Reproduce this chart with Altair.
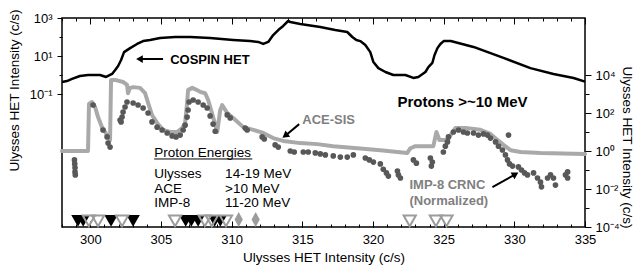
import altair as alt
import pandas as pd
import math

FONT = "Liberation Sans"
GRAY_LINE = "#a9a9a9"
GRAY_DOT = "#585858"
GRAY_TEXT = "#808080"
GRAY_MARK = "#9c9c9c"

# ---------------- data ----------------
# Ulysses COSPIN HET (left axis, c/s)
cospin_day = [298.0, 298.35, 298.71, 299.27, 299.84, 300.69, 301.12, 301.54, 301.75, 301.97,
              302.18, 302.39, 302.82, 303.31, 303.74, 304.23, 304.94, 306.0, 307.07, 308.48,
              310.11, 311.31, 311.88, 312.24, 312.59, 312.94, 313.30, 313.65, 314.0, 314.15,
              314.86, 316.27, 317.33, 318.18, 318.54, 318.82, 319.10, 319.46, 319.81, 320.03,
              320.38, 320.88, 321.44, 322.29, 322.86, 323.21, 323.71, 323.92, 324.20, 324.35,
              324.56, 324.77, 325.0, 325.5, 327.11, 329.23, 331.14, 332.77, 334.19, 335.0]
cospin_rate = [0.43, 0.48, 0.62, 0.89, 1.0, 1.0, 0.79, 1.13, 1.8, 3.0,
               6.2, 16, 26, 43, 61, 70, 89, 100, 100, 89,
               70, 61, 55, 43, 55, 127, 233, 380, 695, 616,
               483, 336, 233, 183, 100, 70, 61, 38, 16, 4.8,
               2.3, 1.44, 1.0, 1.0, 0.70, 0.79, 1.44, 2.6, 4.3, 11,
               26, 43, 61, 61, 30, 7.9, 2.3, 1.13, 0.70, 0.45]

# ACE-SIS (right axis)
ace_day = [298.00, 299.84, 299.91, 300.12, 300.34, 300.55, 300.83, 301.05, 301.40, 301.47,
           301.75, 302.32, 302.60, 302.67, 302.82, 303.03, 303.52, 303.88, 304.09, 304.37,
           304.73, 305.15, 305.65, 306.14, 306.50, 306.71, 306.85, 306.92, 307.21, 307.56,
           307.77, 308.13, 308.34, 308.69, 308.98, 309.19, 309.33, 309.69, 310.11, 310.82,
           311.53, 312.24, 312.94, 313.65, 314.86, 316.06, 317.19, 318.89, 320.52, 322.43,
           322.65, 323.00, 324.27, 324.49, 324.70, 325.27, 325.83, 326.68, 327.60, 328.31,
           328.81, 329.23, 329.73, 330.44, 331.85, 335.0]
ace_rate = [1.0, 1.0, 300, 380, 210, 61, 18, 10, 3.8, 5500,
            5500, 4300, 3000, 1100, 2100, 2300, 2100, 1100, 340, 78,
            30, 13, 10, 10, 16, 30, 340, 1600, 2100, 1600,
            1300, 1100, 480, 61, 10, 140, 260, 100, 55, 18,
            13, 8.9, 4.8, 3.4, 2.6, 2.3, 1.8, 1.4, 1.1, 0.79,
            1.4, 1.8, 1.8, 10, 3.8, 3.8, 16, 16, 13, 7.9,
            3.8, 2.1, 1.1, 0.89, 0.79, 0.70]

# IMP-8 CRNC, normalized (right axis)
imp_day = [298.88, 298.90, 298.92, 298.92, 298.94, 300.20,
           300.90, 301.19, 301.26, 301.40,
           302.11, 302.18, 302.25, 302.32, 302.46, 302.60,
           303.03, 303.38, 303.74, 304.09, 304.37, 304.73, 305.08, 305.44, 305.79, 306.07,
           306.36, 306.57, 306.71, 306.85, 306.92, 306.99,
           307.28, 307.63, 307.99, 308.27, 308.48, 308.69, 308.84,
           309.69, 309.90, 310.96, 311.10, 312.16, 312.31, 313.08, 313.30, 314.15, 314.43,
           315.07, 315.42, 315.92, 316.27, 316.63, 317.19, 317.69, 318.18, 318.61, 319.46,
           319.74, 320.03, 320.52, 320.73, 320.95, 321.09, 321.73, 321.80, 321.94, 322.86,
           323.07, 324.06, 324.13, 324.20, 324.98, 325.12, 325.27, 325.34, 325.69, 326.05,
           326.40, 326.68, 327.11, 327.46, 327.82, 328.10, 328.31, 328.67, 328.88, 329.16,
           329.37, 329.52, 329.59, 329.66, 329.87, 330.29, 330.51, 330.72, 330.93, 331.36,
           331.64, 331.85, 331.92, 332.35, 332.56, 332.77, 332.91, 333.62, 333.77, 333.77]
imp_rate = [0.34, 0.21, 0.13, 0.079, 0.055, 263,
            12.7, 5.5, 2.6, 1.6,
            43, 34, 61, 112, 207, 380,
            336, 263, 183, 100, 34, 18, 12.7, 8.9, 6.2, 5.5,
            6.9, 12.7, 23, 61, 144, 380,
            483, 380, 263, 183, 70, 26, 11,
            79, 55, 16, 12.7, 5.5, 4.3, 2.1, 1.6, 1.0, 0.89,
            0.89, 0.89, 0.79, 0.70, 0.62, 0.55, 0.48, 0.48, 0.62, 0.43,
            0.34, 0.26, 0.21, 0.11, 0.070, 0.048, 0.089, 0.055, 0.038, 0.34,
            0.23, 0.43, 0.16, 0.26, 0.89, 1.8, 3.0, 5.5, 10, 12.7,
            10, 8.9, 8.9, 6.9, 7.9, 6.9, 4.8, 3.0, 1.8, 1.13,
            0.62, 0.34, 6.9, 0.21, 0.16, 0.145, 0.10, 0.070, 0.055, 0.070,
            0.038, 0.023, 0.013, 0.038, 0.055, 0.038, 0.016, 0.055, 0.038, 0.079]

# event markers along the bottom
black_tri_days = [299.13, 299.5, 301.47, 303.03, 306.75, 307.15, 307.63, 308.8, 309.2]
gray_tri_days = [299.9, 300.55, 302.25, 306.0, 308.1, 308.6, 309.6, 322.6, 324.45, 325.2]
diamond_days = [310.5, 311.7]
TRI_LEVEL = 2.1e-4
DIA_LEVEL = 2.5e-4

# axes
X_DOMAIN = [298, 335]
LEFT_DOMAIN = [1e-8, 1e3]
RIGHT_DOMAIN = [1e-4, 1e7]
x_label_values = [300, 305, 310, 315, 320, 325, 330, 335]
x_minor_values = list(range(298, 336))
left_major = [1e3, 1e1, 1e-1]
left_minor = [1e2, 1e0]
right_major = [1e4, 1e2, 1e0, 1e-2, 1e-4]
right_minor = [1e3, 1e1, 1e-1, 1e-3]
AXIS_TITLE = "Ulysses HET Intensity (c/s)"

# annotations
cospin_text = pd.DataFrame({"day": [305.65], "val": [6.15], "label": ["COSPIN HET"]})
cospin_arrow = pd.DataFrame({"day": [305.15], "day2": [303.56], "val": [6.95], "val2": [6.95]})
cospin_head = pd.DataFrame({"day": [303.56], "val": [6.95], "ang": [270]})

protons_text = pd.DataFrame({"day": [321.73], "val": [380], "label": ["Protons >~10 MeV"]})
gray_texts = pd.DataFrame({"day": [315.0, 322.58, 322.58], "val": [42, 0.0153, 0.00233],
                           "label": ["ACE-SIS", "IMP-8 CRNC", "(Normalized)"]})
legend_texts = pd.DataFrame({
    "day": [304.52, 304.52, 304.52, 304.52, 309.54, 309.54, 309.54],
    "val": [0.81, 0.065, 0.0106, 0.00183, 0.065, 0.0106, 0.00183],
    "label": ["Proton Energies", "Ulysses", "ACE", "IMP-8", "14-19 MeV", ">10 MeV", "11-20 MeV"]})
underline = pd.DataFrame({"day": [304.52], "day2": [311.46], "val": [0.38], "val2": [0.38]})
arrows = pd.DataFrame({"day": [314.78, 328.45], "day2": [313.86, 330.01],
                       "val": [26, 0.0127], "val2": [7.0, 0.0558]})
heads = pd.DataFrame({"day": [313.85, 330.01], "val": [7.0, 0.0558], "ang": [233, 60]})

# ---------------- chart ----------------
W, H = 523, 209
xs = alt.Scale(domain=X_DOMAIN, nice=False, zero=False)
yl = alt.Scale(type="log", domain=LEFT_DOMAIN, nice=False)
yr = alt.Scale(type="log", domain=RIGHT_DOMAIN, nice=False)

SUP = {"0": "\u2070", "1": "\u00b9", "2": "\u00b2", "3": "\u00b3", "4": "\u2074", "-": "\u207b"}


def exp_expr(values):
    e = "round(log(datum.value)/LN10)"
    s = ""
    for v in values:
        k = int(round(math.log10(v)))
        s += f"{e} == {k} ? '10{''.join(SUP[c] for c in str(k))}' : "
    return s + "''"


def tick_axis(orient, values, size, offset=None):
    kw = dict(orient=orient, values=values, tickSize=size, labels=False, domain=False,
              title=None, grid=False, tickColor="black", tickWidth=1)
    if offset is not None:
        kw["offset"] = offset
    return alt.Axis(**kw)


ax_bottom_labels = alt.Axis(orient="bottom", values=x_label_values, ticks=False, domain=False,
                            grid=False, labelPadding=6, title=AXIS_TITLE, titleX=W / 2,
                            titleY=30, titleBaseline="middle", titleAlign="center")
ax_bottom_minor = tick_axis("top", x_minor_values, 3, -H)
ax_bottom_major = tick_axis("top", x_label_values, 6, -H)
ax_top_minor = tick_axis("bottom", x_minor_values, 3, -H)
ax_top_major = tick_axis("bottom", x_label_values, 6, -H)

ax_left_major = alt.Axis(orient="left", values=left_major, labelExpr=exp_expr(left_major),
                         tickSize=5, labelPadding=5, domain=False, grid=False, tickColor="black",
                         title=AXIS_TITLE, titleX=-48, titleY=72, titleAngle=270,
                         titleBaseline="middle", titleAlign="center")
ax_left_minor = tick_axis("left", left_minor, 3)
ax_right_major = alt.Axis(orient="right", values=right_major, labelExpr=exp_expr(right_major),
                          tickSize=6, labelPadding=4, domain=False, grid=False, tickColor="black",
                          title=AXIS_TITLE, titleX=41, titleY=129, titleAngle=90,
                          titleBaseline="middle", titleAlign="center")
ax_right_minor = tick_axis("right", right_minor, 4)


def X(axis=None):
    return alt.X("day:Q", scale=xs, axis=axis)


def Y(scale, axis=None):
    return alt.Y("val:Q", scale=scale, axis=axis)


ace = alt.Chart(pd.DataFrame({"day": ace_day, "val": ace_rate})).mark_line(
    color=GRAY_LINE, strokeWidth=4, strokeJoin="round", strokeCap="round"
).encode(x=X(ax_bottom_labels), y=Y(yr, ax_right_major))

imp = alt.Chart(pd.DataFrame({"day": imp_day, "val": imp_rate})).mark_circle(
    size=32, color=GRAY_DOT, opacity=1
).encode(x=X(ax_bottom_minor), y=Y(yr, ax_right_minor))

cospin = alt.Chart(pd.DataFrame({"day": cospin_day, "val": cospin_rate})).mark_line(
    color="black", strokeWidth=2.5, strokeJoin="round"
).encode(x=X(ax_bottom_major), y=Y(yl, ax_left_major))

cos_txt = alt.Chart(cospin_text).mark_text(
    align="left", baseline="middle", font=FONT, fontSize=13, fontWeight="bold", color="black"
).encode(x=X(ax_top_minor), y=Y(yl, ax_left_minor), text="label:N")

cos_arr = alt.Chart(cospin_arrow).mark_rule(color="black", strokeWidth=2).encode(
    x=X(ax_top_major), x2="day2:Q", y=Y(yl), y2="val2:Q")

cos_head = alt.Chart(cospin_head).mark_point(
    shape="triangle", filled=True, color="black", size=60, opacity=1
).encode(x=X(), y=Y(yl), angle=alt.Angle("ang:Q", scale=None))

prot = alt.Chart(protons_text).mark_text(
    align="left", baseline="middle", font=FONT, fontSize=15, fontWeight="bold", color="black"
).encode(x=X(), y=Y(yr), text="label:N")

gtxt = alt.Chart(gray_texts).mark_text(
    align="left", baseline="middle", font=FONT, fontSize=13, fontWeight="bold", color=GRAY_TEXT
).encode(x=X(), y=Y(yr), text="label:N")

ltxt = alt.Chart(legend_texts).mark_text(
    align="left", baseline="middle", font=FONT, fontSize=13.5, color="black"
).encode(x=X(), y=Y(yr), text="label:N")

uline = alt.Chart(underline).mark_rule(color="black", strokeWidth=1).encode(
    x=X(), x2="day2:Q", y=Y(yr), y2="val2:Q")

arr = alt.Chart(arrows).mark_rule(color="black", strokeWidth=2).encode(
    x=X(), x2="day2:Q", y=Y(yr), y2="val2:Q")

hd = alt.Chart(heads).mark_point(
    shape="triangle", filled=True, color="black", size=60, opacity=1
).encode(x=X(), y=Y(yr), angle=alt.Angle("ang:Q", scale=None))

btri = alt.Chart(pd.DataFrame({"day": black_tri_days, "val": [TRI_LEVEL] * len(black_tri_days)})).mark_point(
    shape="triangle-down", filled=True, color="black", size=180, opacity=1
).encode(x=X(), y=Y(yr))

gtri = alt.Chart(pd.DataFrame({"day": gray_tri_days, "val": [TRI_LEVEL] * len(gray_tri_days)})).mark_point(
    shape="triangle-down", filled=False, color=GRAY_MARK, strokeWidth=2, size=150, opacity=1
).encode(x=X(), y=Y(yr))

dia = alt.Chart(pd.DataFrame({"day": diamond_days, "val": [DIA_LEVEL] * len(diamond_days)})).mark_point(
    shape="M0,-1L0.55,0L0,1L-0.55,0Z", filled=True, color=GRAY_MARK, size=225, opacity=1
).encode(x=X(), y=Y(yr))

chart = alt.layer(
    ace, imp, cospin, cos_txt, cos_arr, cos_head, prot, gtxt, ltxt, uline, arr, hd, btri, gtri, dia
).resolve_scale(y="independent").resolve_axis(x="independent", y="independent").properties(
    width=W, height=H,
    autosize=alt.AutoSizeParams(type="none"),
    padding={"left": 54, "top": 10, "right": 50, "bottom": 41},
    background="white",
).configure_view(stroke="black", strokeWidth=1.5).configure_axis(
    labelFont=FONT, labelFontSize=13, labelColor="black",
    titleFont=FONT, titleFontSize=13.5, titleFontWeight="normal", titleColor="black",
    labelFlush=False, labelOverlap=False,
)

chart.save("out.html", embed_options={"renderer": "svg", "actions": False})
